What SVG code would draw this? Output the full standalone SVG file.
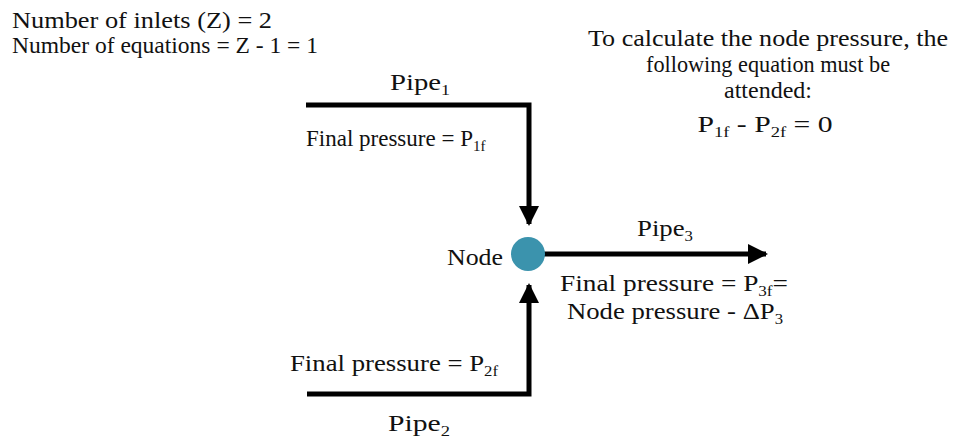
<svg xmlns="http://www.w3.org/2000/svg" width="960" height="440" viewBox="0 0 960 440" font-family="'Liberation Serif', 'Times New Roman', serif">
<style>
text{font-family:'Liberation Serif','Times New Roman',serif;font-size:24px;fill:#111}
.sub{font-size:15px}
.pipe{stroke:#000;stroke-width:5;fill:none}
</style>
<defs>
<marker id="ah" markerWidth="4" markerHeight="4" refX="3.6" refY="2" orient="auto" markerUnits="strokeWidth" viewBox="0 0 4 4">
<path d="M0,0 L4,2 L0,4 Z" fill="#000"/>
</marker>
</defs>
<rect width="960" height="440" fill="#fff"/>
<g id="info">
<text x="12" y="28" textLength="260" lengthAdjust="spacingAndGlyphs">Number of inlets (Z) = 2</text>
<text x="12" y="53" textLength="306" lengthAdjust="spacingAndGlyphs">Number of equations = Z - 1 = 1</text>
</g>
<g id="note" text-anchor="middle">
<text x="768" y="46" textLength="360" lengthAdjust="spacingAndGlyphs">To calculate the node pressure, the</text>
<text x="768" y="72" textLength="244" lengthAdjust="spacingAndGlyphs">following equation must be</text>
<text x="768" y="98" textLength="88" lengthAdjust="spacingAndGlyphs">attended:</text>
<text x="765" y="132" textLength="135" lengthAdjust="spacingAndGlyphs">P<tspan class="sub" dy="5">1f</tspan><tspan dy="-5"> - P</tspan><tspan class="sub" dy="5">2f</tspan><tspan dy="-5"> = 0</tspan></text>
</g>
<g id="connectors">
<polyline class="pipe" points="306,105 529,105 529,224" marker-end="url(#ah)"/>
<polyline class="pipe" points="307,394 529,394 529,285" marker-end="url(#ah)"/>
<line class="pipe" x1="544" y1="254" x2="766" y2="254" marker-end="url(#ah)"/>
</g>
<g id="pipe1">
<text x="420" y="90" text-anchor="middle" textLength="60" lengthAdjust="spacingAndGlyphs">Pipe<tspan class="sub" dy="5">1</tspan></text>
<text x="306" y="146" style="font-size:23px">Final pressure = P<tspan class="sub" dy="5">1f</tspan></text>
</g>
<g id="pipe2">
<text x="290" y="371" textLength="208" lengthAdjust="spacingAndGlyphs">Final pressure = P<tspan class="sub" dy="5">2f</tspan></text>
<text x="419" y="431" text-anchor="middle" textLength="62" lengthAdjust="spacingAndGlyphs">Pipe<tspan class="sub" dy="5">2</tspan></text>
</g>
<g id="pipe3">
<text x="665" y="236" text-anchor="middle" textLength="56" lengthAdjust="spacingAndGlyphs">Pipe<tspan class="sub" dy="5">3</tspan></text>
<text x="674" y="291" text-anchor="middle" textLength="228" lengthAdjust="spacingAndGlyphs">Final pressure = P<tspan class="sub" dy="5">3f</tspan><tspan dy="-5">=</tspan></text>
<text x="675" y="319" text-anchor="middle" textLength="216" lengthAdjust="spacingAndGlyphs">Node pressure - ΔP<tspan class="sub" dy="5">3</tspan></text>
</g>
<g id="node">
<circle cx="528" cy="254" r="17" fill="#3b93ad"/>
<text x="503" y="265" text-anchor="end" textLength="56" lengthAdjust="spacingAndGlyphs">Node</text>
</g>
</svg>
